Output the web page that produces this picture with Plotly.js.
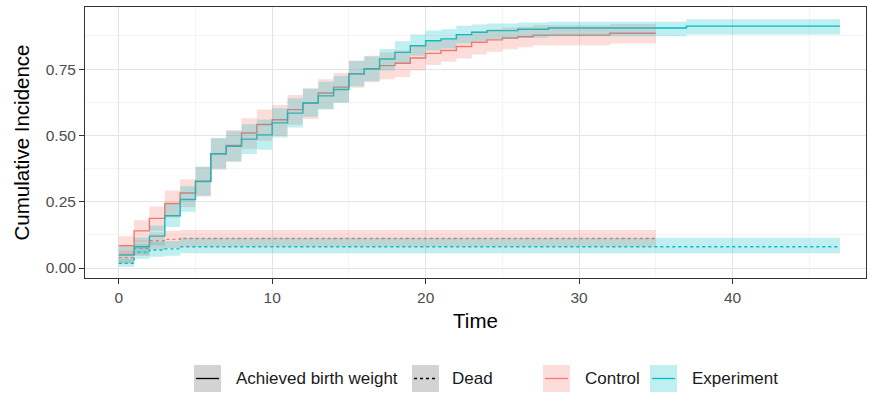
<!DOCTYPE html>
<html>
<head>
<meta charset="utf-8">
<script src="https://cdn.plot.ly/plotly-3.0.1.min.js"></script>
<style>html,body{margin:0;padding:0;background:#fff}#chart{width:870px;height:395px}</style>
</head>
<body>
<div id="chart"></div>
<script>
// ---- Data ----
const ctrlBwTime = [0,1,2,3,4,5,6,7,8,9,10,11,12,13,14,15,16,17,18,19,20,21,22,23,24,25,26,27,32,35];
const ctrlBwEst  = [0.084,0.140,0.187,0.243,0.283,0.327,0.431,0.462,0.509,0.541,0.559,0.597,0.622,0.660,0.682,0.732,0.751,0.763,0.772,0.792,0.809,0.820,0.835,0.851,0.860,0.867,0.872,0.878,0.885,0.885];
const ctrlBwLo   = [0.050,0.100,0.140,0.190,0.230,0.270,0.370,0.400,0.450,0.480,0.500,0.540,0.562,0.600,0.625,0.680,0.700,0.712,0.720,0.745,0.765,0.778,0.790,0.805,0.815,0.825,0.832,0.840,0.846,0.846];
const ctrlBwHi   = [0.120,0.180,0.232,0.292,0.335,0.382,0.488,0.520,0.565,0.598,0.615,0.652,0.678,0.712,0.735,0.782,0.800,0.812,0.820,0.840,0.855,0.865,0.878,0.892,0.900,0.906,0.910,0.915,0.920,0.920];

const expBwTime = [0,1,2,3,4,5,6,7,8,9,10,11,12,13,14,15,16,17,18,19,20,21,22,23,24,26,28,37,47];
const expBwEst  = [0.049,0.080,0.120,0.197,0.258,0.326,0.431,0.459,0.486,0.502,0.547,0.584,0.622,0.649,0.673,0.732,0.751,0.788,0.813,0.838,0.857,0.864,0.880,0.889,0.895,0.900,0.905,0.912,0.912];
const expBwLo   = [0.020,0.050,0.085,0.155,0.212,0.272,0.375,0.402,0.430,0.446,0.492,0.530,0.570,0.598,0.622,0.685,0.705,0.745,0.772,0.800,0.820,0.828,0.846,0.856,0.863,0.868,0.874,0.880,0.880];
const expBwHi   = [0.080,0.115,0.160,0.242,0.308,0.382,0.490,0.516,0.542,0.560,0.602,0.640,0.676,0.702,0.724,0.780,0.797,0.826,0.855,0.880,0.895,0.900,0.913,0.918,0.922,0.926,0.928,0.938,0.938];

const ctrlDeadTime = [0,1,2,3,4,35];
const ctrlDeadEst  = [0.039,0.074,0.103,0.108,0.111,0.111];
const ctrlDeadLo   = [0.015,0.045,0.070,0.075,0.080,0.080];
const ctrlDeadHi   = [0.065,0.105,0.135,0.140,0.143,0.143];

const expDeadTime = [0,1,2,3,4,47];
const expDeadEst  = [0.018,0.060,0.068,0.072,0.080,0.080];
const expDeadLo   = [0.004,0.035,0.042,0.046,0.056,0.056];
const expDeadHi   = [0.034,0.090,0.098,0.102,0.114,0.114];

const xTicks = [0,10,20,30,40];
const yTicks = [0,0.25,0.5,0.75];
const eventLabels = ['Achieved birth weight','Dead'];
const groupLabels = ['Control','Experiment'];

// ---- Styling ----
const RED = '#F8766D', TEAL = '#00BFC4';
const RED_FILL = 'rgba(248,118,109,0.25)', TEAL_FILL = 'rgba(0,191,196,0.25)';
const FONT = 'Liberation Sans, Arial, sans-serif';

function line(x, y, color, dash) {
  return {x: x, y: y, type: 'scatter', mode: 'lines', showlegend: false, hoverinfo: 'skip',
          line: {color: color, width: 1.4, shape: 'hv', dash: dash}};
}
function ribbon(x, lo, hi, fill) {
  return [
    {x: x, y: lo, type: 'scatter', mode: 'lines', showlegend: false, hoverinfo: 'skip',
     line: {width: 0, shape: 'hv'}},
    {x: x, y: hi, type: 'scatter', mode: 'lines', showlegend: false, hoverinfo: 'skip',
     fill: 'tonexty', fillcolor: fill, line: {width: 0, shape: 'hv'}}
  ];
}

const traces = [
  line(ctrlBwTime, ctrlBwEst, RED, 'solid'),
  line(expBwTime, expBwEst, TEAL, 'solid'),
  line(ctrlDeadTime, ctrlDeadEst, RED, '3px,3px'),
  line(expDeadTime, expDeadEst, TEAL, '3px,3px'),
  ...ribbon(ctrlBwTime, ctrlBwLo, ctrlBwHi, RED_FILL),
  ...ribbon(expBwTime, expBwLo, expBwHi, TEAL_FILL),
  ...ribbon(ctrlDeadTime, ctrlDeadLo, ctrlDeadHi, RED_FILL),
  ...ribbon(expDeadTime, expDeadLo, expDeadHi, TEAL_FILL)
];

// plot area in pixels
const L = 85, R = 866, T = 7, B = 278, W = 870, H = 395;
const px = p => (p - L) / (R - L);
const py = p => (B - p) / (B - T);

// ---- manual legend ----
const legY = 378.5, box = 27;
const keys = [
  {x: 194, fill: '#D3D3D3', color: '#000000', dash: 'solid', label: eventLabels[0], tx: 234},
  {x: 412, fill: '#D3D3D3', color: '#000000', dash: 'dot', label: eventLabels[1], tx: 450},
  {x: 543, fill: '#FDDDDB', color: RED, dash: 'solid', label: groupLabels[0], tx: 583},
  {x: 650, fill: '#BFEFF0', color: TEAL, dash: 'solid', label: groupLabels[1], tx: 690}
];
const shapes = [];
const annotations = [];
keys.forEach(k => {
  shapes.push({type: 'rect', xref: 'paper', yref: 'paper', layer: 'above',
    x0: px(k.x), x1: px(k.x + box), y0: py(legY + box / 2), y1: py(legY - box / 2),
    fillcolor: k.fill, line: {width: 0}});
  shapes.push({type: 'line', xref: 'paper', yref: 'paper', layer: 'above',
    x0: px(k.x + 2), x1: px(k.x + box - 2), y0: py(legY), y1: py(legY),
    line: {color: k.color, width: 1.3, dash: k.dash}});
  annotations.push({xref: 'paper', yref: 'paper', x: px(k.tx), y: py(legY), xanchor: 'left', yanchor: 'middle',
    showarrow: false, text: k.label, font: {family: FONT, size: 17, color: '#1A1A1A'}});
});

const layout = {
  width: W, height: H,
  margin: {l: L, r: W - R, t: T, b: H - B, pad: 0},
  paper_bgcolor: '#FFFFFF', plot_bgcolor: '#FFFFFF',
  font: {family: FONT, color: '#1A1A1A'},
  showlegend: false,
  hovermode: false,
  xaxis: {
    range: [-2.2, 48.7], tickvals: xTicks, ticktext: xTicks.map(String),
    ticks: 'outside', ticklen: 5, tickwidth: 1, tickcolor: '#333333',
    tickfont: {family: FONT, size: 15.5, color: '#4D4D4D'},
    showline: true, mirror: true, linecolor: '#333333', linewidth: 1,
    showgrid: true, gridcolor: '#E4E4E4', gridwidth: 1, zeroline: false,
    minor: {dtick: 5, tick0: 0, showgrid: true, gridcolor: '#F0F0F0', gridwidth: 0.7, ticks: ''},
    title: {text: 'Time', font: {family: FONT, size: 20.5, color: '#000000'}, standoff: 9},
    automargin: false
  },
  yaxis: {
    range: [-0.0377, 0.984], tickvals: yTicks, tickformat: '.2f',
    ticks: 'outside', ticklen: 5, tickwidth: 1, tickcolor: '#333333',
    tickfont: {family: FONT, size: 15.5, color: '#4D4D4D'},
    showline: true, mirror: true, linecolor: '#333333', linewidth: 1,
    showgrid: true, gridcolor: '#E4E4E4', gridwidth: 1, zeroline: false,
    minor: {dtick: 0.125, tick0: 0, showgrid: true, gridcolor: '#F0F0F0', gridwidth: 0.7, ticks: ''},
    title: {text: 'Cumulative Incidence', font: {family: FONT, size: 20.5, color: '#000000'}, standoff: 10},
    automargin: false
  },
  shapes: shapes,
  annotations: annotations
};

Plotly.newPlot('chart', traces, layout, {staticPlot: true, displayModeBar: false});
</script>
</body>
</html>
